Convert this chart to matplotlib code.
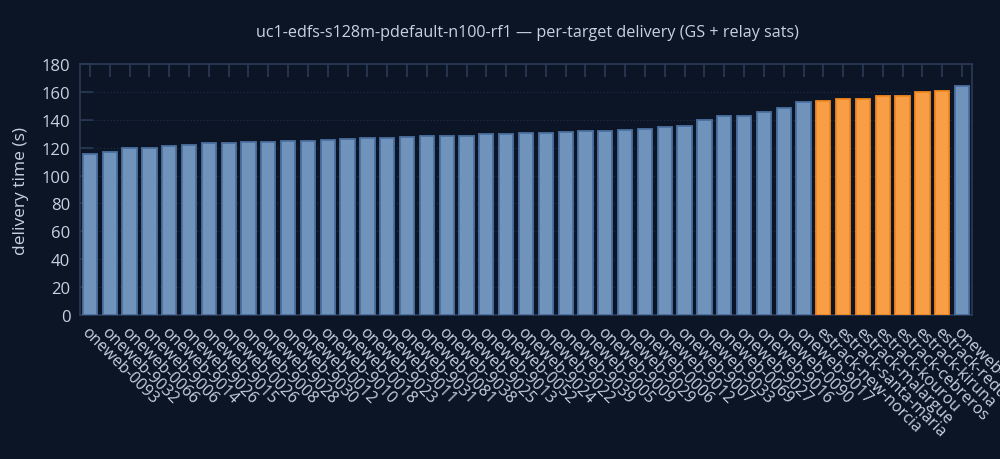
import numpy as np
import matplotlib
matplotlib.use("Agg")
import matplotlib.pyplot as plt

# ------------------------------------------------------------
# data
# ------------------------------------------------------------
targets = [
    "oneweb-0093", "oneweb-9032", "oneweb-0066", "oneweb-9006", "oneweb-9014",
    "oneweb-9026", "oneweb-9015", "oneweb-0026", "oneweb-9008", "oneweb-9028",
    "oneweb-9030", "oneweb-0012", "oneweb-9010", "oneweb-0018", "oneweb-9023",
    "oneweb-9011", "oneweb-9031", "oneweb-0081", "oneweb-9038", "oneweb-9025",
    "oneweb-9013", "oneweb-0052", "oneweb-9024", "oneweb-9022", "oneweb-9039",
    "oneweb-9005", "oneweb-9009", "oneweb-9029", "oneweb-0006", "oneweb-9012",
    "oneweb-9007", "oneweb-9033", "oneweb-0069", "oneweb-9027", "oneweb-9016",
    "oneweb-0090", "oneweb-9017",
    "estrack-new-norcia", "estrack-santa-maria", "estrack-malargue",
    "estrack-kourou", "estrack-cebreros", "estrack-kiruna", "estrack-redu",
    "oneweb-9002",
]

delivery_s = [
    115.2, 116.6, 119.5, 119.5, 121.0, 121.7, 123.6, 123.6, 124.3, 124.3,
    125.0, 125.0, 125.8, 126.5, 127.2, 127.2, 127.9, 128.6, 128.6, 128.6,
    130.0, 130.0, 130.8, 130.8, 131.5, 132.2, 132.2, 132.9, 133.6, 135.0,
    135.7, 140.1, 143.0, 143.0, 145.9, 148.8, 152.4,
    153.8, 154.6, 154.6, 156.7, 156.7, 159.6, 160.3,
    163.9,
]

y_ticks = [0, 20, 40, 60, 80, 100, 120, 140, 160, 180]

# ------------------------------------------------------------
# style
# ------------------------------------------------------------
BG = "#0b1526"
TXT = "#c6d1e1"
AXIS = "#2b3a55"
GRID = "#22314b"
SAT_FILL, SAT_EDGE = "#6f93ba", "#4b70a0"
GS_FILL, GS_EDGE = "#f89e46", "#f2861c"

plt.rcParams["font.family"] = ["Open Sans", "DejaVu Sans"]

fig = plt.figure(figsize=(10, 4.6), dpi=100, facecolor=BG)
ax = fig.add_axes([0.080, 0.313, 0.892, 0.5457], facecolor=BG)

x = np.arange(len(targets))
is_gs = [t.startswith("estrack") for t in targets]
fills = [GS_FILL if g else SAT_FILL for g in is_gs]
edges = [GS_EDGE if g else SAT_EDGE for g in is_gs]

ax.bar(x, delivery_s, width=0.72, color=fills, edgecolor=edges,
       linewidth=1.3, zorder=3)

ax.set_xlim(-0.5, len(targets) - 0.5)
ax.set_ylim(0, 180)
ax.set_yticks(y_ticks)
ax.set_xticks(x)
ax.set_xticklabels(targets, rotation=-45, ha="left", va="top",
                   rotation_mode="anchor", fontsize=11.5)

ax.grid(axis="y", color=GRID, linestyle=(0, (1, 2)), linewidth=0.8, zorder=0)

for side in ["left", "right", "top", "bottom"]:
    ax.spines[side].set_color(AXIS)
    ax.spines[side].set_linewidth(1.2)

ax.tick_params(axis="both", colors=AXIS, labelcolor=TXT,
               direction="in", length=9, width=1.2)
ax.tick_params(axis="x", top=True, bottom=False, pad=6)
ax.tick_params(axis="y", pad=7, labelsize=12)

ax.set_ylabel("delivery time (s)", color=TXT, fontsize=12.5, labelpad=9)

fig.text(0.527, 0.928,
         "uc1-edfs-s128m-pdefault-n100-rf1 \u2014 per-target delivery (GS + relay sats)",
         color=TXT, fontsize=11.6, ha="center", va="center")

fig.savefig("out.png", dpi=100, facecolor=BG)
